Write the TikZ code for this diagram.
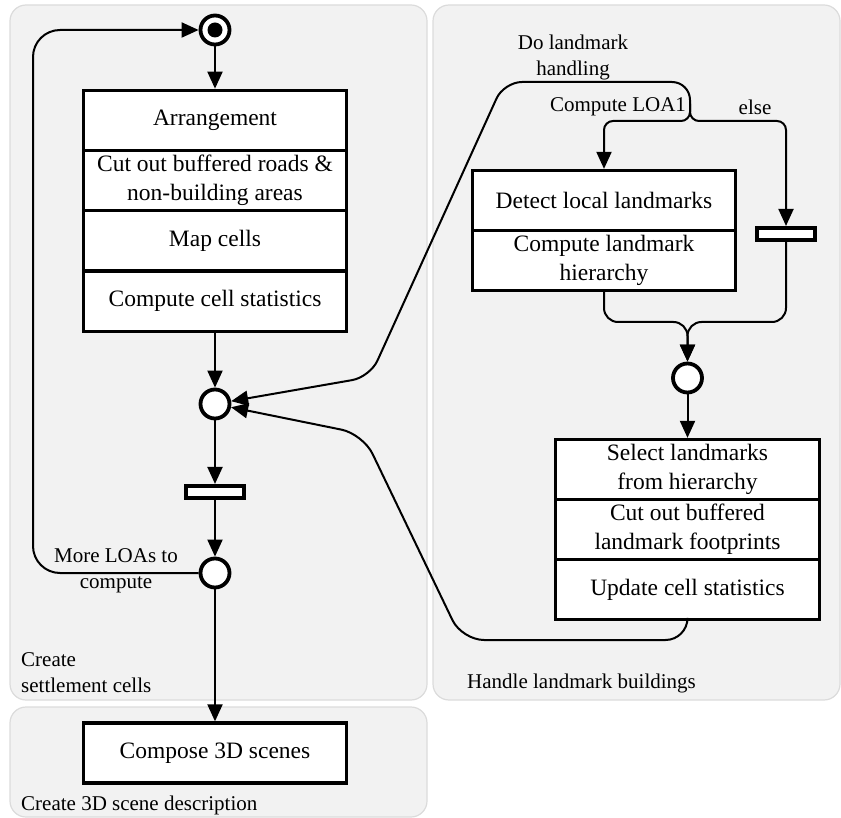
\documentclass[tikz,border=0pt]{standalone}
\usepackage{fontspec}
\setmainfont{Liberation Serif}
\usetikzlibrary{arrows.meta}

\begin{document}
\begin{tikzpicture}[x=1pt,y=-1pt,
  panel/.style={draw=black!14, fill=black!5, line width=1.2pt, rounded corners=16pt},
  act/.style={draw, fill=white, line width=3.3pt, minimum width=263.5pt, minimum height=60.2pt,
    inner sep=1pt, align=center, font=\fontsize{23.5}{29}\selectfont},
  place/.style={circle, draw, fill=white, line width=3.8pt, minimum size=29pt, inner sep=0pt},
  syncbar/.style={draw, fill=white, line width=3.6pt, minimum width=58.5pt, minimum height=12.5pt, inner sep=0pt},
  lbl/.style={inner sep=0pt, align=center, font=\fontsize{21}{26}\selectfont},
  conn/.style={line width=2pt, -{Triangle[length=17pt,width=15pt]}},
  wire/.style={line width=2pt}
]
\useasboundingbox (0,0) rectangle (841,818);

% swimlane panels
\draw[panel] (10,5) rectangle (427,700);
\draw[panel] (433,5) rectangle (840,700);
\draw[panel] (10,707) rectangle (427,817);

\node[lbl, align=left, anchor=west] (lanecells) at (21,673) {Create\\settlement cells};
\node[lbl, anchor=west] (lanelandmark) at (467,683) {Handle landmark buildings};
\node[lbl, anchor=west] (lanescene) at (21,805) {Create 3D scene description};

% left column
\node[place] (start) at (215,30) {};
\fill (start.center) circle (7.5);

\node[act] (b1a) at (215,120.4) {Arrangement};
\node[act] (b1b) at (215,180.6) {Cut out buffered roads \&\\non-building areas};
\node[act] (b1c) at (215,240.8) {Map cells};
\node[act] (b1d) at (215,301.2) {Compute cell statistics};

\node[place] (m1) at (215,404) {};
\node[syncbar] (bar1) at (215,492) {};
\node[place] (c2) at (215,573) {};
\node[act, minimum height=60pt] (compose) at (215,753) {Compose 3D scenes};

% right column
\node[act, minimum width=262.5pt, minimum height=60pt] (b2a) at (604,200.5) {Detect local landmarks};
\node[act, minimum width=262.5pt, minimum height=60pt] (b2b) at (604,260.5) {Compute landmark\\hierarchy};
\node[syncbar, minimum width=58pt] (bar2) at (786,234) {};
\node[place] (c3) at (687.5,378) {};

\node[act, minimum height=60pt] (b3a) at (687.5,469.5) {Select landmarks\\from hierarchy};
\node[act, minimum height=60pt] (b3b) at (687.5,529.5) {Cut out buffered\\landmark footprints};
\node[act, minimum height=60pt] (b3c) at (687.5,589.5) {Update cell statistics};

\coordinate (split) at (690,104);

% main flow
\draw[conn] (start) -- (b1a);
\draw[conn] (b1d) -- (m1);
\draw[conn] (m1) -- (bar1);
\draw[conn] (bar1) -- (c2);
\draw[conn] (c2) -- (compose);

% loop back for further LOAs
\draw[conn, rounded corners=27pt] (c2.west) -- (33,573) -- (33,30) -- (start);
\node[lbl] (moreloa) at (116,571) {More LOAs to\\compute};

% landmark handling branch
\draw[conn, rounded corners=18pt] (split) -- (690,82) -- (504,82) -- (370,377) -- (m1);
\node[lbl] (dolm) at (573,57) {Do landmark\\handling};

\draw[conn, rounded corners=9pt] (split) -- (690,121) -- (604,121) -- (b2a.north);
\draw[conn, rounded corners=9pt] (split) -- (690,121) -- (786,121) -- (bar2.north);
\node[lbl] (loa1) at (618,107) {Compute LOA1};
\node[lbl] (elselbl) at (755,107) {else};

% merge into the landmark selection
\draw[conn, rounded corners=14pt] (b2b.south) -- (604,322) -- (687.5,322) -- (c3);
\draw[conn, rounded corners=14pt] (bar2.south) -- (786,322) -- (687.5,322) -- (c3);
\draw[conn] (c3) -- (b3a);

% return to the first merge
\draw[conn, rounded corners=22pt] (b3c.south) -- (687.5,640) -- (462,640) -- (363,434) -- (m1);
\end{tikzpicture}
\end{document}
